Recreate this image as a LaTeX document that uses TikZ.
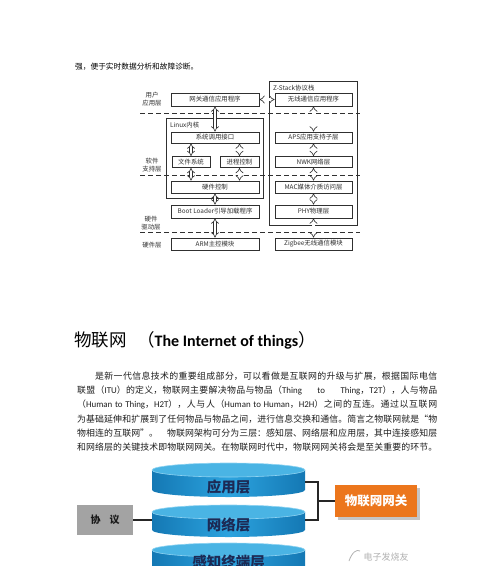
\documentclass[tikz,border=0pt]{standalone}
\usepackage{fontspec}
\setmainfont{Carlito}
\newfontfamily\cjk{Noto Sans CJK SC}
\newfontfamily\latf{Carlito}
\usetikzlibrary{arrows.meta,shadows}
\definecolor{dk}{HTML}{303030}
\definecolor{bodytxt}{HTML}{1E1E1E}
\definecolor{cylL}{HTML}{1478B4}
\definecolor{cylM}{HTML}{2CA3DE}
\definecolor{cylT}{HTML}{4AB4E4}
\definecolor{cylRim}{HTML}{8ED3F2}
\definecolor{navy}{HTML}{1C2A55}
\definecolor{boxgray}{HTML}{A3A3A3}
\definecolor{gwor}{HTML}{EC761C}
\newcommand\dfont{\cjk\fontsize{6.4}{8}\selectfont}
\newcommand\lat[1]{{\latf #1}}
\newcommand\pline[2]{\parbox{#1}{\cjk\fontsize{8.9}{14}\selectfont
  \XeTeXlinebreaklocale "zh"\XeTeXlinebreakskip=0pt plus 1pt\XeTeXlinebreakpenalty=10000\relax
  \parfillskip=0pt\tolerance=10000\pretolerance=-1\hbadness=10000\hfuzz=20pt #2}}
\newcommand\cylbody[2]{%
  \shade[left color=cylL, right color=cylL, middle color=cylM]
    (152,#1) -- (152,#2) arc[start angle=180, end angle=360, x radius=76.5pt, y radius=7pt] -- (305,#1) -- cycle;
  \fill[cylT, draw=cylRim, line width=0.6pt] (228.5,#1) ellipse[x radius=76.5pt, y radius=7pt];}
\begin{document}
\begin{tikzpicture}[x=1pt,y=-1pt,
  bx/.style={draw=dk, line width=0.8pt, fill=white, inner sep=0pt, text=dk, font=\dfont},
  outer/.style={draw=dk, line width=0.8pt, inner sep=0pt},
  lbl/.style={align=center, font=\dfont, text=dk, inner sep=0pt},
  dbl/.style={draw=dk, line width=0.6pt, double=white, double distance=2.2pt, {Implies}-{Implies}},
  sep/.style={draw=dk, line width=0.8pt, dash pattern=on 5pt off 3pt},
  ptxt/.style={anchor=west, inner sep=0pt, text=bodytxt},
  layer/.style={font=\cjk\bfseries\fontsize{14.5}{16}\selectfont, text=navy, inner sep=0pt},
  conn/.style={draw=black!85, line width=1.3pt}]
\useasboundingbox (0,0) rectangle (500,566);
\clip (0,0) rectangle (500,566);
\fill[white] (0,0) rectangle (500,566);

% top line
\node[ptxt, text=black] (topline) at (75,67) {\cjk\fontsize{7.7}{9}\selectfont 强，便于实时数据分析和故障诊断。};

% ---------- upper diagram ----------
\node[outer, minimum width=88pt, minimum height=144pt] (zsk) at (313,153) {};
\node[outer, minimum width=97pt, minimum height=80pt] (lnx) at (214.5,158) {};
\node[lbl, anchor=west] (zskl) at (273,88) {Z-Stack协议栈};
\node[lbl, anchor=west] (lnxl) at (170,125) {Linux内核};

\draw[sep] (140,113) -- (360,113);
\draw[sep] (140,175) -- (360,175);
\draw[sep] (140,232) -- (360,232);

\node[lbl] (l1) at (152,99) {用户\\应用层};
\node[lbl] (l2) at (152,165) {软件\\支持层};
\node[lbl] (l3) at (151,223) {硬件\\驱动层};
\node[lbl] (l4) at (152,245) {硬件层};

\node[bx, minimum width=88pt, minimum height=13pt] (gw) at (215,99.5) {网关通信应用程序};
\node[bx, minimum width=77pt, minimum height=13pt] (wl) at (313.5,99.5) {无线通信应用程序};
\node[bx, minimum width=88pt, minimum height=11pt] (sc) at (215,137.5) {系统调用接口};
\node[bx, minimum width=38pt, minimum height=11pt] (fs) at (191,162) {文件系统};
\node[bx, minimum width=39pt, minimum height=11pt] (pc) at (239.5,162) {进程控制};
\node[bx, minimum width=88pt, minimum height=12pt] (hc) at (215,187) {硬件控制};
\node[bx, minimum width=88pt, minimum height=13pt] (bl) at (215,211.5) {Boot Loader引导加载程序};
\node[bx, minimum width=88pt, minimum height=12pt] (arm) at (215,244) {ARM主控模块};
\node[bx, minimum width=77pt, minimum height=11pt] (aps) at (313.5,137.5) {APS应用支持子层};
\node[bx, minimum width=77pt, minimum height=11pt] (nwk) at (313.5,162) {NWK网络层};
\node[bx, minimum width=77pt, minimum height=12pt] (mac) at (313.5,187) {MAC媒体介质访问层};
\node[bx, minimum width=77pt, minimum height=13pt] (phy) at (313.5,211.5) {PHY物理层};
\node[bx, minimum width=77pt, minimum height=12pt] (zig) at (313.5,244) {Zigbee无线通信模块};

\draw[dbl] (gw.east) -- (wl.west);
\draw[dbl] (gw.south) -- (sc.north);
\draw[dbl] (sc.south -| fs.north) -- (fs.north);
\draw[dbl] (sc.south -| pc.north) -- (pc.north);
\draw[dbl] (fs.south) -- (fs.south |- hc.north);
\draw[dbl] (pc.south) -- (pc.south |- hc.north);
\draw[dbl] (hc.south) -- (bl.north);
\draw[dbl] (bl.south) -- (arm.north);
\draw[dbl] (wl.south) -- (aps.north);
\draw[dbl] (aps.south) -- (nwk.north);
\draw[dbl] (nwk.south) -- (mac.north);
\draw[dbl] (mac.south) -- (phy.north);
\draw[dbl] (phy.south) -- (zig.north);

% ---------- title ----------
\node[anchor=west, inner sep=0pt, text=black] (t1) at (74,340) {\cjk\fontsize{17.5}{20}\selectfont 物联网};
\node[anchor=west, inner sep=0pt, text=black] (t2) at (137,340) {{\cjk\fontsize{17.5}{20}\selectfont （}{\bfseries\fontsize{16}{20}\selectfont The Internet of things}{\cjk\fontsize{17.5}{20}\selectfont ）}};

% ---------- paragraph ----------
\node[ptxt] (p1) at (95,376) {\pline{342pt}{是新一代信息技术的重要组成部分，可以看做是互联网的升级与扩展，根据国际电信}};
\node[ptxt] (p2) at (77,390.3) {\pline{360pt}{联盟（\lat{ITU}）的定义，物联网主要解决物品与物品（\lat{Thing}\nobreak\hspace{6pt plus 30pt}\lat{to}\nobreak\hspace{6pt plus 30pt}\lat{Thing}，\lat{T2T}），人与物品}};
\node[ptxt] (p3) at (77,404.6) {\pline{360pt}{（\lat{Human~to~Thing}，\lat{H2T}），人与人（\lat{Human~to~Human}，\lat{H2H}）之间的互连。通过以互联网}};
\node[ptxt] (p4) at (77,418.9) {\pline{360pt}{为基础延伸和扩展到了任何物品与物品之间，进行信息交换和通信。简言之物联网就是“物}};
\node[ptxt] (p5) at (77,433.2) {\pline{360pt}{物相连的互联网”。\nobreak\hspace{8pt plus 10pt}物联网架构可分为三层：感知层、网络层和应用层，其中连接感知层}};
\node[ptxt] (p6) at (77,447.5) {\pline{360pt}{和网络层的关键技术即物联网网关。在物联网时代中，物联网网关将会是至关重要的环节。}};

% ---------- lower diagram ----------
\cylbody{470}{490}
\node[layer] (app) at (228.5,487) {应用层};
\cylbody{512}{530}
\node[layer] (net) at (228.5,525) {网络层};
\cylbody{550}{600}
\node[layer] (sen) at (228.5,562) {感知终端层};

\node[fill=boxgray, minimum width=56pt, minimum height=30pt, inner sep=0pt,
      font=\cjk\bfseries\fontsize{10}{12}\selectfont, text=black!90] (xy) at (105,520) {协\hspace{9pt}议};
\coordinate (c2l) at (152,520);
\draw[conn] (xy.east) -- (c2l);

\node[fill=gwor, minimum width=82pt, minimum height=32pt, inner sep=0pt,
      drop shadow={shadow xshift=2.5pt, shadow yshift=-2.5pt, fill=black!45},
      font=\cjk\bfseries\fontsize{12.5}{14}\selectfont, text=white] (gwy) at (376,501) {物联网网关};
\coordinate (c1r) at (305,482);
\coordinate (c2r) at (305,520);
\coordinate (brk) at (318,501);
\draw[conn] (c1r) -| (brk) |- (c2r);
\draw[conn] (brk) -- (gwy.west);

% watermark
\node[text=black!30, font=\cjk\itshape\fontsize{9}{10}\selectfont, inner sep=0pt] (wm) at (386,557) {电子发烧友};
\draw[black!30, line width=0.8pt] (349,561) .. controls (352,552) and (357,549) .. (360,551);
\end{tikzpicture}
\end{document}
